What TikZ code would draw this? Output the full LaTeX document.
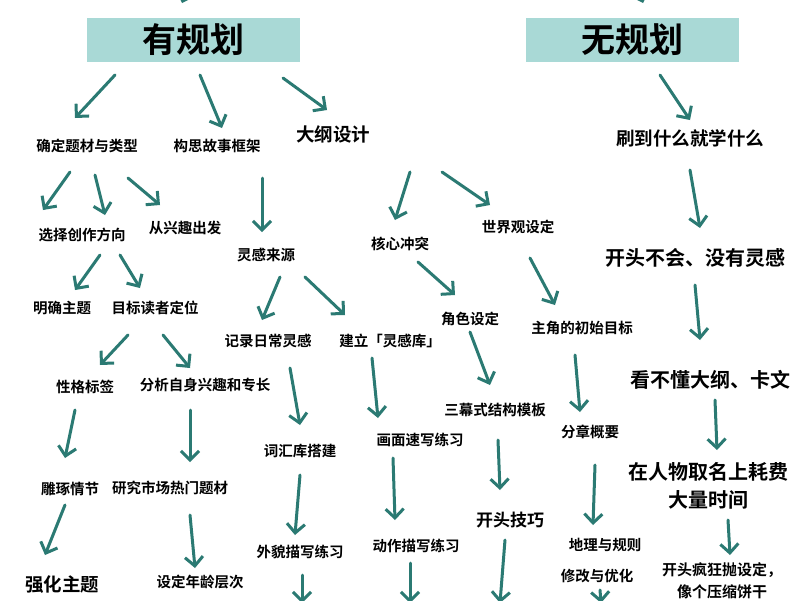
\documentclass[tikz,border=0pt]{standalone}
\usepackage{fontspec}
\newfontfamily\cjk{Noto Sans CJK SC}[BoldFont={Noto Sans CJK SC Bold}]
\usetikzlibrary{arrows.meta}
\definecolor{arr}{HTML}{2B7A73}
\definecolor{boxc}{HTML}{A9D9D6}
\begin{document}
\begin{tikzpicture}[x=1pt,y=-1pt,
  ar/.style={draw=arr,line width=3pt,line cap=round,-{Straight Barb[length=9pt,width=18pt,line width=3pt]}},
  s/.style={font=\cjk\bfseries\fontsize{14.5}{16}\selectfont,inner sep=1pt},
  m/.style={font=\cjk\bfseries\fontsize{18.5}{20}\selectfont,inner sep=1pt},
  l/.style={font=\cjk\bfseries\fontsize{20}{28}\selectfont,inner sep=1pt,align=center},
  box/.style={fill=boxc,font=\cjk\bfseries\fontsize{34}{36}\selectfont,minimum width=213pt,minimum height=44pt}]
\useasboundingbox (0,0) rectangle (800,600);
\fill[white] (0,0) rectangle (800,600);
\node[box] (a) at (193,40) {有规划};
\node[box] (b) at (632,40) {无规划};
\draw[ar] (185,-6) -- (182,3);
\draw[ar] (640,-6) -- (643,3);
% left
\node[s] (n1) at (87,146) {确定题材与类型};
\node[s] (n2) at (217,146) {构思故事框架};
\node[m] (n3) at (333,134) {大纲设计};
\node[m] (n4) at (690,138) {刷到什么就学什么};
\draw[ar] (115,75) -- (75,118);
\draw[ar] (200,75) -- (222,128);
\draw[ar] (283,78) -- (327,110);
\draw[ar] (660,75) -- (690,120);
\draw[ar] (70,172) -- (43,210);
\draw[ar] (95,175) -- (105,215);
\draw[ar] (128,178) -- (160,205);
\node[s] (n5) at (82,235) {选择创作方向};
\node[s] (n6) at (185,228) {从兴趣出发};
\draw[ar] (100,255) -- (75,290);
\draw[ar] (120,255) -- (140,288);
\node[s] (n7) at (62,308) {明确主题};
\node[s] (n8) at (155,308) {目标读者定位};
\draw[ar] (128,335) -- (100,365);
\draw[ar] (163,335) -- (190,368);
\node[s] (n9) at (85,387) {性格标签};
\node[s] (n10) at (205,385) {分析自身兴趣和专长};
\draw[ar] (75,410) -- (65,458);
\draw[ar] (190,410) -- (190,462);
\node[s] (n11) at (70,489) {雕琢情节};
\node[s] (n12) at (170,488) {研究市场热门题材};
\draw[ar] (65,505) -- (45,555);
\draw[ar] (190,515) -- (195,568);
\node[m] (n13) at (62,585) {强化主题};
\node[s] (n14) at (200,582) {设定年龄层次};
% middle
\draw[ar] (262,178) -- (262,232);
\node[s] (n15) at (266,255) {灵感来源};
\draw[ar] (280,277) -- (262,320);
\draw[ar] (305,277) -- (345,315);
\node[s] (n16) at (268,341) {记录日常灵感};
\node[s] (n17) at (390,341) {建立「灵感库」};
\draw[ar] (290,368) -- (300,425);
\node[s] (n18) at (300,451) {词汇库搭建};
\draw[ar] (372,358) -- (378,418);
\node[s] (n19) at (420,440) {画面速写练习};
\draw[ar] (300,475) -- (295,535);
\node[s] (n20) at (300,552) {外貌描写练习};
\draw[ar] (393,458) -- (395,520);
\node[s] (n21) at (416,546) {动作描写练习};
\draw[ar] (302,575) -- (302,603);
\draw[ar] (410,563) -- (410,603);
\draw[ar] (410,172) -- (395,220);
\node[s] (n22) at (400,244) {核心冲突};
\draw[ar] (442,172) -- (490,205);
\node[s] (n23) at (518,227) {世界观设定};
\draw[ar] (418,262) -- (455,295);
\node[s] (n24) at (470,319) {角色设定};
\draw[ar] (470,332) -- (490,385);
\node[s] (n25) at (495,410) {三幕式结构模板};
\draw[ar] (530,258) -- (555,305);
\node[s] (n26) at (582,328) {主角的初始目标};
\draw[ar] (575,355) -- (580,412);
\node[s] (n27) at (590,432) {分章概要};
\draw[ar] (498,440) -- (500,490);
\node[m,font=\cjk\bfseries\fontsize{17}{18}\selectfont] (n28) at (510,520) {开头技巧};
\draw[ar] (595,465) -- (593,525);
\node[s] (n29) at (605,545) {地理与规则};
\draw[ar] (505,540) -- (500,603);
\node[s] (n30) at (597,576) {修改与优化};
\draw[ar] (600,590) -- (601,603);
% right
\draw[ar] (690,170) -- (700,228);
\node[l] (n31) at (695,258) {开头不会、没有灵感};
\draw[ar] (695,285) -- (700,340);
\node[l] (n32) at (710,380) {看不懂大纲、卡文};
\draw[ar] (715,400) -- (717,450);
\node[l] (n33) at (708,486) {在人物取名上耗费\\大量时间};
\draw[ar] (728,520) -- (730,555);
\node[s,align=center,font=\cjk\bfseries\fontsize{15}{22}\selectfont] (n34) at (722,581) {开头疯狂抛设定，\\像个压缩饼干};
\end{tikzpicture}
\end{document}
